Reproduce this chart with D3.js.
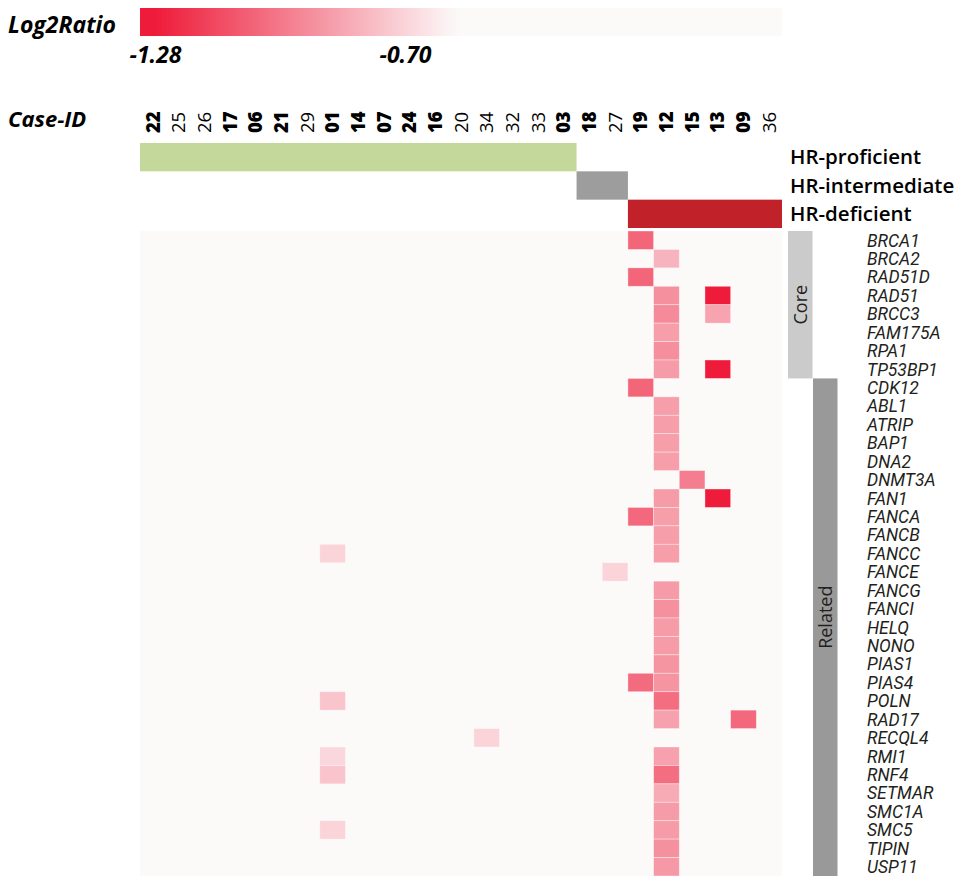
<!DOCTYPE html>
<html>
<head>
<meta charset="utf-8">
<script src="https://cdn.jsdelivr.net/npm/d3@7"></script>
<style>
  html, body { margin: 0; padding: 0; background: #ffffff; }
  svg { display: block; }
</style>
</head>
<body>
<svg id="chart" width="962" height="877"></svg>
<script>
// Case IDs in display order, with bold flag and HR status
const cases = ["22","25","26","17","06","21","29","01","14","07","24","16","20","34","32","33","03","18","27","19","12","15","13","09","36"];
const caseBold = [1,0,0,1,1,1,0,1,1,1,1,1,0,0,0,0,1,1,0,1,1,1,1,1,0];
const hrGroups = ["HR-proficient","HR-intermediate","HR-deficient"];
const caseStatus = [
  "HR-proficient","HR-proficient","HR-proficient","HR-proficient","HR-proficient","HR-proficient",
  "HR-proficient","HR-proficient","HR-proficient","HR-proficient","HR-proficient","HR-proficient",
  "HR-proficient","HR-proficient","HR-proficient","HR-proficient","HR-proficient",
  "HR-intermediate","HR-intermediate",
  "HR-deficient","HR-deficient","HR-deficient","HR-deficient","HR-deficient","HR-deficient"
];

// Genes (rows) and their pathway class
const genes = ["BRCA1","BRCA2","RAD51D","RAD51","BRCC3","FAM175A","RPA1","TP53BP1",
  "CDK12","ABL1","ATRIP","BAP1","DNA2","DNMT3A","FAN1","FANCA","FANCB","FANCC","FANCE",
  "FANCG","FANCI","HELQ","NONO","PIAS1","PIAS4","POLN","RAD17","RECQL4","RMI1","RNF4",
  "SETMAR","SMC1A","SMC5","TIPIN","USP11"];
const geneClasses = ["Core","Related"];
const geneClass = genes.map((g, i) => i < 8 ? "Core" : "Related");

// Copy-number losses: [gene, case, log2 ratio]
const calls = [
  ["BRCA1","19",-1.05], ["RAD51D","19",-1.05], ["CDK12","19",-1.05], ["FANCA","19",-1.04], ["PIAS4","19",-1.03],
  ["BRCA2","12",-0.80], ["RAD51","12",-0.91], ["BRCC3","12",-0.93], ["FAM175A","12",-0.87],
  ["RPA1","12",-0.92], ["TP53BP1","12",-0.88], ["ABL1","12",-0.87], ["ATRIP","12",-0.87],
  ["BAP1","12",-0.87], ["DNA2","12",-0.87], ["FAN1","12",-0.88], ["FANCA","12",-0.87],
  ["FANCB","12",-0.87], ["FANCC","12",-0.87], ["FANCG","12",-0.88], ["FANCI","12",-0.91],
  ["HELQ","12",-0.88], ["NONO","12",-0.88], ["PIAS1","12",-0.90], ["PIAS4","12",-0.90],
  ["POLN","12",-1.02], ["RAD17","12",-0.86], ["RMI1","12",-0.86], ["RNF4","12",-1.02],
  ["SETMAR","12",-0.83], ["SMC1A","12",-0.88], ["SMC5","12",-0.88], ["TIPIN","12",-0.91], ["USP11","12",-0.89],
  ["DNMT3A","15",-0.97],
  ["RAD51","13",-1.28], ["BRCC3","13",-0.85], ["TP53BP1","13",-1.28], ["FAN1","13",-1.28],
  ["RAD17","09",-1.04],
  ["FANCC","01",-0.70], ["POLN","01",-0.75], ["RMI1","01",-0.69], ["RNF4","01",-0.75], ["SMC5","01",-0.70],
  ["FANCE","27",-0.70], ["RECQL4","34",-0.70]
];

// Legend ticks
const legendTicks = [-1.28, -0.70];

const svg = d3.select("#chart");
const textColor = "#231f20";
const bgCell = "#fbfaf8";
const sans = "'Open Sans', sans-serif";

const x = d3.scaleBand().domain(cases).range([140, 782]);
const y = d3.scaleBand().domain(genes).range([231, 876]);
const color = d3.scaleLinear().domain([-1.28, -0.58]).range(["#ee1c3a", "#fcfafa"]).clamp(true);

// ---- Legend ----
const lx = d3.scaleLinear().domain(legendTicks).range([155.5, 405.5]);
const barX0 = 140, barX1 = 782;
const defs = svg.append("defs");
const grad = defs.append("linearGradient").attr("id", "lg").attr("x1", "0%").attr("x2", "100%");
d3.range(0, 41).forEach(i => {
  const px = barX0 + (barX1 - barX0) * i / 40;
  const v = lx.invert(px);
  grad.append("stop")
    .attr("offset", (i / 40 * 100) + "%")
    .attr("stop-color", v > -0.58 ? bgCell : color(v));
});
svg.append("rect").attr("x", barX0).attr("y", 8).attr("width", barX1 - barX0).attr("height", 28)
  .attr("fill", "url(#lg)");
svg.append("text").attr("x", 8).attr("y", 33).text("Log2Ratio")
  .attr("font-family", sans).attr("font-weight", 700).attr("font-style", "italic")
  .attr("font-size", 23).attr("fill", "#000");
svg.selectAll("text.tick").data(legendTicks).join("text").attr("class", "tick")
  .attr("x", d => lx(d)).attr("y", 63).attr("text-anchor", "middle")
  .text(d => d.toFixed(2))
  .attr("font-family", sans).attr("font-weight", 700).attr("font-style", "italic")
  .attr("font-size", 23).attr("fill", "#000");

// ---- Case IDs ----
svg.append("text").attr("x", 8).attr("y", 127).text("Case-ID")
  .attr("font-family", sans).attr("font-weight", 700).attr("font-style", "italic")
  .attr("font-size", 22).attr("fill", "#000");
svg.selectAll("text.case").data(cases).join("text").attr("class", "case")
  .attr("transform", d => `translate(${x(d) + x.bandwidth() / 2},133) rotate(-90)`)
  .attr("dy", "0.36em")
  .text(d => d)
  .attr("font-family", sans)
  .attr("font-weight", (d, i) => caseBold[i] ? 800 : 400)
  .attr("font-size", 18.5).attr("fill", "#000");

// ---- HR status bars ----
const gy = d3.scaleBand().domain(hrGroups).range([143, 228]);
const groupColor = { "HR-proficient": "#c5d89b", "HR-intermediate": "#9d9d9d", "HR-deficient": "#c1222a" };
const groupSpans = hrGroups.map(g => {
  const members = cases.filter((c, i) => caseStatus[i] === g);
  return { g, x0: x(members[0]), x1: x(members[members.length - 1]) + x.bandwidth() };
});
svg.selectAll("rect.grp").data(groupSpans).join("rect").attr("class", "grp")
  .attr("x", d => d.x0).attr("width", d => d.x1 - d.x0)
  .attr("y", d => gy(d.g)).attr("height", gy.bandwidth())
  .attr("fill", d => groupColor[d.g]);
svg.selectAll("text.grp").data(hrGroups).join("text").attr("class", "grp")
  .attr("x", 790).attr("y", d => gy(d) + gy.bandwidth() / 2 + 7)
  .text(d => d)
  .attr("font-family", sans).attr("font-weight", 600)
  .attr("font-size", 20.5).attr("fill", "#000");

// ---- Heatmap ----
svg.append("rect").attr("x", 140).attr("y", 231).attr("width", 642).attr("height", 645).attr("fill", bgCell);
svg.selectAll("rect.cell").data(calls).join("rect").attr("class", "cell")
  .attr("x", d => x(d[1])).attr("y", d => y(d[0]))
  .attr("width", x.bandwidth()).attr("height", y.bandwidth())
  .attr("fill", d => color(d[2]))
  .attr("stroke", "#ffffff").attr("stroke-opacity", 0.45).attr("stroke-width", 0.8);

// ---- Gene class bars ----
const cx = d3.scaleBand().domain(geneClasses).range([788, 838]);
const classColor = { "Core": "#cbcbcb", "Related": "#999999" };
const classSpans = geneClasses.map(c => {
  const members = genes.filter((g, i) => geneClass[i] === c);
  return { c, y0: y(members[0]), y1: y(members[members.length - 1]) + y.bandwidth() };
});
svg.selectAll("rect.cls").data(classSpans).join("rect").attr("class", "cls")
  .attr("x", d => cx(d.c)).attr("width", cx.bandwidth() - 0.5)
  .attr("y", d => d.y0).attr("height", d => d.y1 - d.y0)
  .attr("fill", d => classColor[d.c]);
svg.selectAll("text.cls").data(classSpans).join("text").attr("class", "cls")
  .attr("transform", d => `translate(${cx(d.c) + cx.bandwidth() / 2},${(d.y0 + d.y1) / 2 - (d.c === "Related" ? 10 : 0)}) rotate(-90)`)
  .attr("text-anchor", "middle").attr("dy", "0.36em")
  .text(d => d.c)
  .attr("font-family", sans).attr("font-size", 18).attr("fill", textColor);

// ---- Gene labels ----
svg.selectAll("text.gene").data(genes).join("text").attr("class", "gene")
  .attr("x", 867).attr("y", d => y(d) + y.bandwidth() / 2).attr("dy", "0.36em")
  .text(d => d)
  .attr("font-family", "Roboto, sans-serif").attr("font-style", "italic")
  .attr("font-size", 17.5).attr("fill", textColor);
</script>
</body>
</html>
